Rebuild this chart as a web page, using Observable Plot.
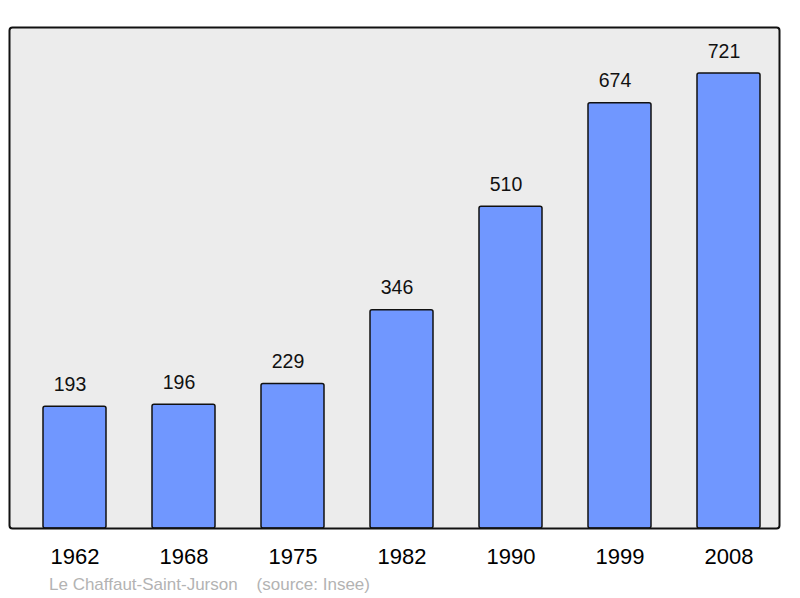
<!DOCTYPE html>
<html>
<head>
<meta charset="utf-8">
<script src="https://cdn.jsdelivr.net/npm/d3@7"></script>
<script src="https://cdn.jsdelivr.net/npm/@observablehq/plot@0.6"></script>
<style>
  html, body { margin: 0; padding: 0; background: #fff; }
  #chart { position: relative; width: 800px; height: 598px; }
  #caption { position: absolute; left: 49px; top: 576px; font: 17px "Liberation Sans", Arial, sans-serif; line-height: 1; color: #b3b3b3; white-space: pre; }
</style>
</head>
<body>
<div id="chart"></div>
<script>
const years = ["1962", "1968", "1975", "1982", "1990", "1999", "2008"];
const population = [193, 196, 229, 346, 510, 674, 721];
const captionText = "Le Chaffaut-Saint-Jurson    (source: Insee)";

const data = years.map((y, i) => ({year: y, pop: population[i]}));

const plot = Plot.plot({
  width: 800,
  height: 598,
  marginLeft: 9,
  marginRight: 21,
  marginTop: 27,
  marginBottom: 70,
  style: {fontFamily: "'Liberation Sans', Arial, sans-serif", background: "#fff", color: "#000"},
  x: {domain: years, range: [41, 761], paddingInner: 0.425, paddingOuter: 0, label: null},
  y: {domain: [0, 794], axis: null},
  marks: [
    Plot.frame({fill: "#ececec", stroke: "none", rx: 3}),
    Plot.barY(data, {x: "year", y: "pop", fill: "#7097ff", stroke: "#111", strokeWidth: 1.5, rx: 2}),
    Plot.text(data, {x: "year", y: "pop", text: d => String(d.pop), dy: -22, dx: -5, fontSize: 19.5, fill: "#111"}),
    Plot.frame({stroke: "#111", strokeWidth: 2, rx: 3}),
    Plot.axisX({tickSize: 0, tickPadding: 20, fontSize: 22, label: null})
  ]
});
document.getElementById("chart").appendChild(plot);
const cap = document.createElement("div");
cap.id = "caption";
cap.textContent = captionText;
document.getElementById("chart").appendChild(cap);
</script>
</body>
</html>
